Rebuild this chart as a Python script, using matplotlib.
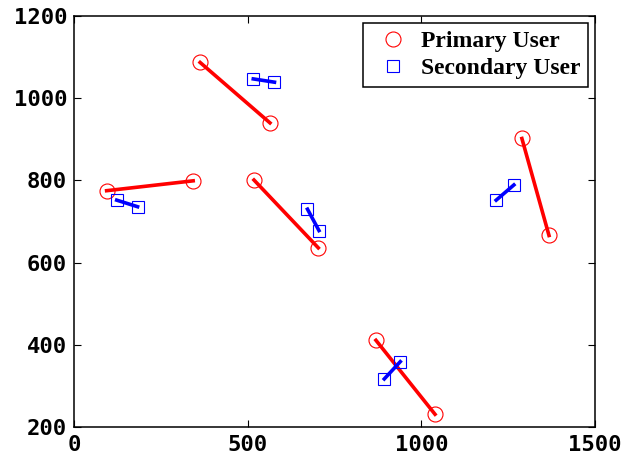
'''
primary / secondary user pair positions
'''

import matplotlib.pyplot as plt
import numpy as np

# each pair is (transmitter, receiver), one row per pair
pu_x = [[94, 343], [363, 564], [518, 703], [1289, 1367], [869, 1039]]
pu_y = [[775, 799], [1087, 940], [801, 636], [902, 666], [411, 231]]

su_x = [[123, 183], [516, 577], [672, 705], [1215, 1266], [893, 939]]
su_y = [[752, 736], [1047, 1039], [730, 678], [752, 789], [317, 359]]

x_ticks = [0, 500, 1000, 1500]
y_ticks = [200, 400, 600, 800, 1000, 1200]


def plot_pairs(xs, ys, color, marker, msize, label):
    '''draw every pair as a thick line and mark both ends'''
    for px, py in zip(xs, ys):
        plt.plot(px, py, '-', color=color, linewidth=2.6, zorder=2)
    allx = np.array(xs).ravel()
    ally = np.array(ys).ravel()
    plt.plot(allx, ally, linestyle='none', marker=marker, markersize=msize,
             markerfacecolor='none', markeredgecolor=color,
             markeredgewidth=0.8, label=label, zorder=3)


fig = plt.figure(figsize=(6.28, 4.55), dpi=100)
ax = fig.add_axes([0.1178, 0.0615, 0.830, 0.9033])

plot_pairs(pu_x, pu_y, 'red', 'o', 10.8, 'Primary User')
plot_pairs(su_x, su_y, 'blue', 's', 8.2, 'Secondary User')

ax.set_xlim(0, 1500)
ax.set_ylim(200, 1200)
ax.set_xticks(x_ticks)
ax.set_yticks(y_ticks)

tick_font = {'family': 'DejaVu Sans Mono', 'weight': 'bold', 'size': 16}
ax.set_xticklabels([str(t) for t in x_ticks], fontdict=tick_font)
ax.set_yticklabels([str(t) for t in y_ticks], fontdict=tick_font)
ax.tick_params(direction='in', length=5, width=0.8, top=True, right=True)
ax.tick_params(axis='x', pad=6)
ax.tick_params(axis='y', pad=5)
for sp in ax.spines.values():
    sp.set_linewidth(1.1)

leg = ax.legend(loc='upper right', bbox_to_anchor=(0.986, 0.982),
                prop={'family': 'Liberation Serif', 'weight': 'bold', 'size': 17},
                fancybox=False, framealpha=1, edgecolor='black',
                handlelength=1.9, handletextpad=0.25, borderpad=0.3,
                labelspacing=0.25, borderaxespad=0)
leg.get_frame().set_linewidth(1.1)

plt.savefig('out.png', dpi=100)
